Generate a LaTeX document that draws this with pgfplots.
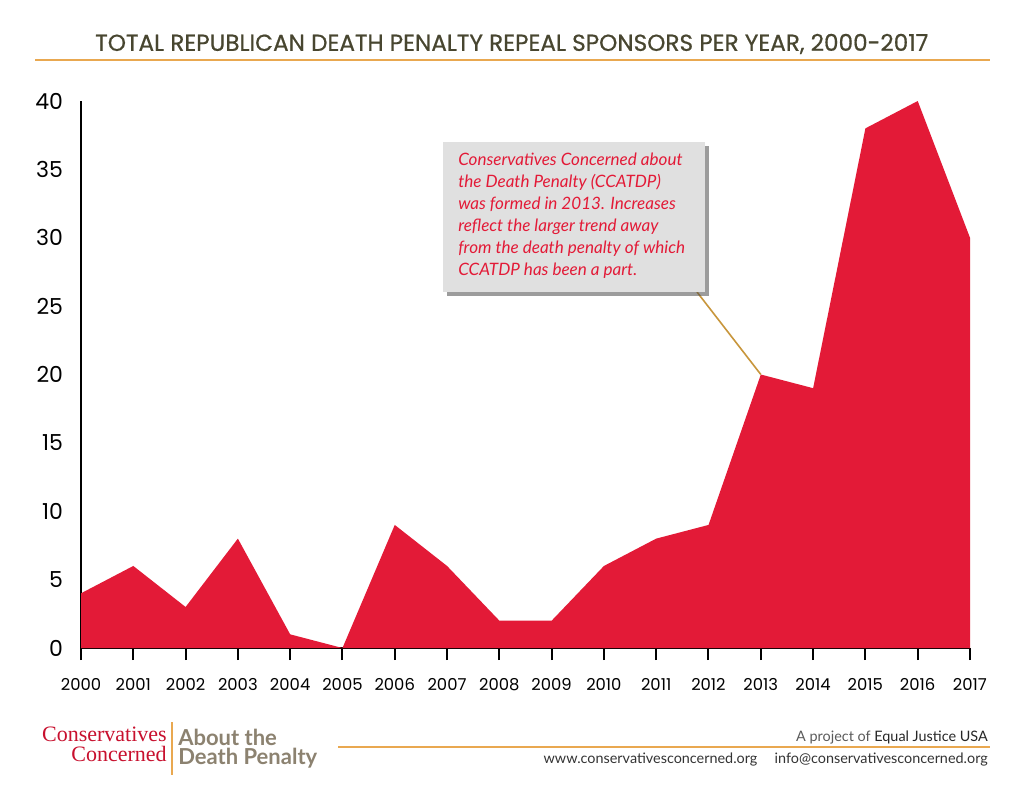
\documentclass[border=0pt]{standalone}
\usepackage{pgfplots}
\pgfplotsset{compat=1.18}
\usepackage{fontspec}
\setmainfont{Lato}
\newfontfamily\tickfont{Poppins}
\newfontfamily\titlefont[FakeBold=0.6]{Poppins}
\newfontfamily\seriffont{Liberation Serif}
\usetikzlibrary{shadows}
\definecolor{areared}{RGB}{227,26,55}
\definecolor{titlecol}{RGB}{72,70,48}
\definecolor{orangeline}{RGB}{233,168,80}
\definecolor{leader}{RGB}{200,150,60}
\definecolor{boxgray}{RGB}{224,224,224}
\definecolor{logored}{RGB}{200,16,46}
\definecolor{logogray}{RGB}{140,130,112}
\definecolor{footgray}{RGB}{90,90,90}
\begin{document}
\begin{tikzpicture}
\begin{scope}[x=0.75bp,y=-0.75bp]
\path[fill=white,use as bounding box] (0,0) rectangle (1024,800);
% title
\node[anchor=west,inner sep=0,text=titlecol] at (95,44) {\resizebox{624.75bp}{!}{\titlefont\fontsize{15bp}{18bp}\selectfont TOTAL REPUBLICAN DEATH PENALTY REPEAL SPONSORS PER YEAR, 2000-2017}};
\draw[orangeline,line width=1.2bp] (35,60) -- (990,60);
\end{scope}
\begin{axis}[
  at={(60.75bp,-486bp)}, anchor=south west,
  scale only axis, width=666.75bp, height=410.25bp,
  xmin=2000, xmax=2017, ymin=0, ymax=40,
  axis x line=bottom, axis y line=left,
  axis line style={-, line width=1.5bp, black},
  xtick={2000,...,2017},
  ytick={0,5,...,40},
  x tick style={black, line width=1.5bp},
  y tick style={draw=none},
  tick align=outside,
  major tick length=9bp,
  xticklabel style={/pgf/number format/1000 sep={}, font=\tickfont\fontsize{12.3bp}{14bp}\selectfont, yshift=-10bp},
  yticklabel style={font=\tickfont\fontsize{16.5bp}{18bp}\selectfont, xshift=-1bp},
  /pgf/number format/assume math mode=true,
  clip=false,
]
\addplot[fill=areared, draw=none] coordinates {
(2000,4) (2001,6) (2002,3) (2003,8) (2004,1) (2005,0) (2006,9) (2007,6) (2008,2)
(2009,2) (2010,6) (2011,8) (2012,9) (2013,20) (2014,19) (2015,38) (2016,40) (2017,30)
} \closedcycle;
\coordinate (p2013) at (axis cs:2013,20);
\end{axis}
\begin{scope}[x=0.75bp,y=-0.75bp]
% annotation
\draw[leader,line width=1.2bp] (697,292) -- (p2013);
\fill[boxgray, drop shadow={shadow xshift=3bp, shadow yshift=-3bp, opacity=0.55, fill=black!70}] (443,142) rectangle (705,292);
\node[anchor=north west, align=left, inner sep=0, text=areared, font=\itshape\fontsize{12.8bp}{16.4bp}\selectfont] at (458,153) {Conservatives Concerned about\\the Death Penalty (CCATDP)\\was formed in 2013. Increases\\reflect the larger trend away\\from the death penalty of which\\CCATDP has been a part.};
% footer
\node[anchor=north east,inner sep=0,align=right,text=logored,font=\seriffont\fontsize{16.5bp}{15bp}\selectfont] at (167,727) {Conservatives\\Concerned};
\draw[orangeline,line width=1.5bp] (172,722) -- (172,775);
\node[anchor=north west,inner sep=0,align=left,text=logogray,font=\bfseries\fontsize{16.5bp}{14.25bp}\selectfont] at (178,729) {About the\\Death Penalty};
\draw[orangeline,line width=1.5bp] (338,747) -- (990,747);
\node[anchor=east,inner sep=0,font=\fontsize{10.8bp}{11bp}\selectfont] at (988,737) {\textcolor{footgray}{A project of} \textcolor{black!85}{Equal Justice USA}};
\node[anchor=east,inner sep=0,text=black!80,font=\fontsize{10.8bp}{11bp}\selectfont] at (988,760) {www.conservativesconcerned.org\hspace{13bp}info@conservativesconcerned.org};
\end{scope}
\end{tikzpicture}
\end{document}
